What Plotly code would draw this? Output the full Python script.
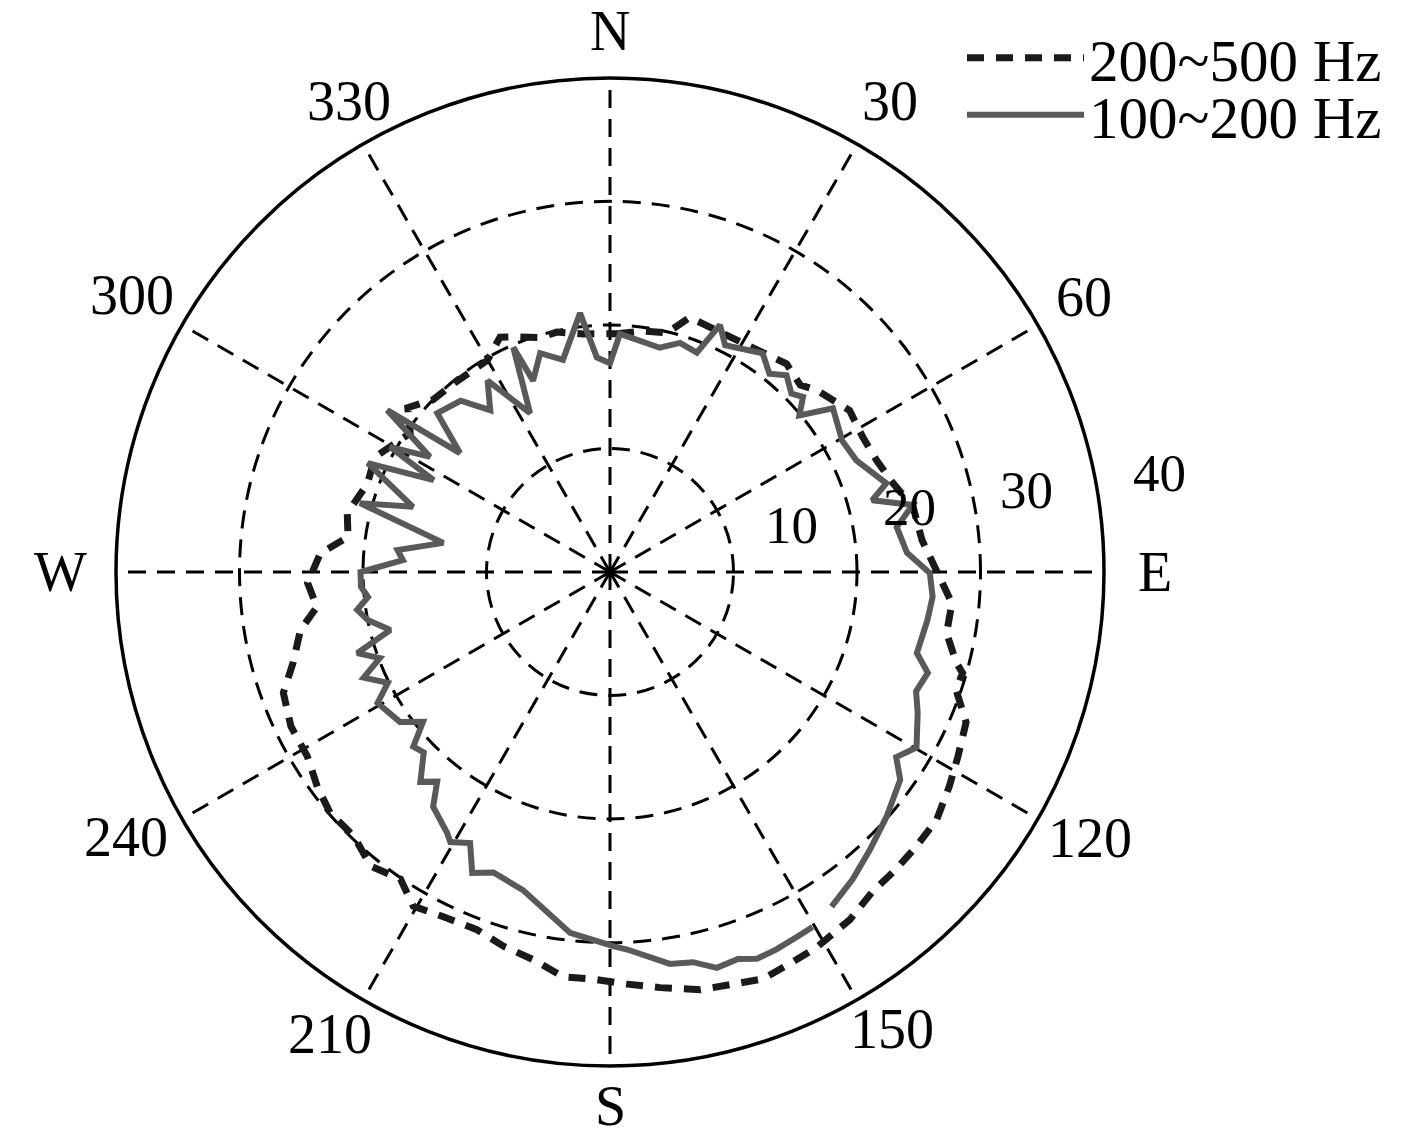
import math
import plotly.graph_objects as go

# 100~200 Hz band (solid grey), compass degrees / value
theta_low = [150.3, 152.9, 156.2, 159.2, 161.7, 164.9, 168.0, 171.3, 177.4, 179.5,
             186.3, 195.3, 201.2, 204.6, 207.3, 210.6, 212.0, 217.0, 219.5, 222.1,
             225.9, 228.4, 231.3, 234.5, 240.6, 243.5, 246.8, 249.5, 252.2, 255.2,
             258.8, 261.5, 264.1, 266.6, 270.0, 273.3, 275.9, 279.9, 285.4, 288.3,
             294.2, 297.5, 299.6, 302.6, 306.0, 308.4, 312.6, 318.9, 323.5, 327.4,
             333.3, 336.7, 338.1, 342.3, 347.5, 353.4, 356.5, 0.0, 2.4, 12.5,
             17.0, 21.6, 24.0, 26.9, 34.9, 38.8, 41.9, 45.5, 47.8, 50.4,
             53.7, 60.5, 65.6, 72.2, 74.7, 77.5, 81.1, 86.3, 90.2, 94.4,
             98.6, 104.8, 107.6, 111.3, 114.6, 119.8, 122.9, 125.6, 131.5, 136.9,
             141.7, 146.5]
r_low = [33.1, 33.2, 33.4, 33.5, 33.0, 33.2, 32.3, 32.1, 30.6, 30.3,
         29.4, 26.7, 26.1, 26.8, 24.7, 25.4, 24.9, 23.8, 22.0, 22.9,
         21.0, 21.3, 19.4, 20.9, 21.6, 20.1, 21.7, 19.9, 21.5, 18.4,
         20.0, 20.7, 19.7, 20.2, 20.2, 16.8, 17.3, 13.7, 21.0, 16.8,
         21.5, 16.1, 20.5, 17.3, 22.3, 15.5, 19.0, 18.4, 16.3, 18.4,
         14.4, 19.8, 16.7, 18.6, 17.6, 21.1, 17.4, 16.9, 19.3, 18.6,
         19.4, 19.1, 21.9, 20.6, 21.6, 20.6, 21.4, 20.6, 21.1, 19.9,
         22.4, 21.6, 21.9, 23.5, 22.0, 25.1, 23.5, 24.1, 25.9, 26.2,
         26.0, 25.7, 27.0, 26.6, 27.4, 28.6, 27.6, 28.9, 29.9, 30.8,
         31.7, 32.5]

# 200~500 Hz band (dashed black)
theta_high = [1.7, 7.8, 13.4, 17.4, 28.7, 40.3, 45.5, 48.7, 56.0, 61.9,
              67.2, 72.5, 77.9, 84.2, 89.6, 95.2, 100.3, 104.7, 106.0, 108.8,
              112.9, 118.0, 122.3, 127.2, 131.9, 136.1, 140.7, 145.4, 151.2, 155.4,
              159.4, 163.8, 167.8, 173.1, 177.6, 182.4, 186.6, 191.2, 195.9, 200.4,
              205.8, 210.5, 214.3, 219.1, 224.1, 229.3, 233.7, 238.6, 244.2, 249.7,
              254.0, 259.4, 263.2, 267.9, 273.7, 277.6, 282.6, 290.1, 296.0, 304.8,
              309.1, 314.2, 321.4, 329.9, 334.9, 337.6, 343.4, 347.5, 353.6, 361.7]
r_high = [19.3, 19.7, 19.9, 21.6, 21.4, 22.1, 21.6, 22.3, 23.4, 23.2,
          23.4, 24.0, 25.1, 25.4, 26.4, 27.8, 27.7, 29.0, 29.7, 29.6,
          31.3, 31.9, 32.5, 33.2, 33.3, 33.4, 33.5, 34.2, 34.7, 34.9,
          35.2, 34.8, 34.6, 33.9, 33.4, 33.0, 33.0, 32.0, 31.5, 30.9,
          31.0, 31.4, 30.1, 30.7, 29.8, 29.9, 29.4, 28.7, 28.7, 28.2,
          26.7, 25.5, 23.9, 24.5, 23.5, 21.4, 21.8, 20.9, 21.2, 19.7,
          21.1, 20.0, 19.8, 19.8, 21.0, 20.6, 19.8, 19.9, 19.4, 19.3]

angle_ticks = [0, 30, 60, 90, 120, 150, 180, 210, 240, 270, 300, 330]
angle_labels = ["N", "30", "60", "E", "120", "150", "S", "210", "240", "W", "300", "330"]
radial_ticks = [10, 20, 30, 40]
# label placement (in radial units / degrees) - compass labels sit just
# outside the ring, radial numbers a little outside their own circles
angle_label_r = [43.8, 44.4, 44.4, 44.1, 44.4, 43.5, 43.2, 43.7, 44.7, 44.5, 44.7, 43.6]
angle_label_theta = [0, 30.7, 59.9, 90, 119, 148.3, 180, 211.2, 241.3, 270, 300.1, 331]
radial_label_r = [15.2, 24.8, 34.4, 45.2]
radial_label_theta = [75.5, 77.8, 78.9, 79.8]
R_MAX = 40

FONT = "Liberation Serif"
# page body has an 8px margin, so the figure is 16px smaller than the window
W, H = 1401, 1118
DOM_X = [108 / W, 1096 / W]
DOM_Y = [1 - 1058 / H, 1 - 70 / H]

# polar geometry in paper units, used to place the text labels
cx = (DOM_X[0] + DOM_X[1]) / 2
cy = (DOM_Y[0] + DOM_Y[1]) / 2
rad_px = (DOM_X[1] - DOM_X[0]) * W / 2


def polar_to_paper(r, theta):
    d = r / R_MAX * rad_px
    t = math.radians(theta)
    return cx + d * math.sin(t) / W, cy + d * math.cos(t) / H


fig = go.Figure()

fig.add_trace(go.Scatterpolar(
    r=r_high, theta=theta_high, mode="lines", name="200~500 Hz",
    line=dict(color="#1a1a1a", width=7, dash="17px,12px"),
    legend="legend", showlegend=True,
))
fig.add_trace(go.Scatterpolar(
    r=r_low, theta=theta_low, mode="lines", name="100~200 Hz",
    line=dict(color="#595959", width=6),
    legend="legend2", showlegend=True,
))

annotations = []
for v, r, t in zip(radial_ticks, radial_label_r, radial_label_theta):
    x, y = polar_to_paper(r, t)
    annotations.append(dict(x=x, y=y, text=str(v), font=dict(size=53)))
for lab, r, t in zip(angle_labels, angle_label_r, angle_label_theta):
    x, y = polar_to_paper(r, t)
    annotations.append(dict(x=x, y=y, text=lab, font=dict(size=56)))
for a in annotations:
    a.update(xref="paper", yref="paper", xanchor="center", yanchor="middle",
             showarrow=False)
    a["font"].update(family=FONT, color="black")

legend_style = dict(
    xanchor="left", yanchor="top", bgcolor="rgba(0,0,0,0)",
    itemwidth=117, font=dict(family=FONT, size=59, color="black"),
)

fig.update_layout(
    width=W, height=H,
    paper_bgcolor="white",
    margin=dict(l=0, r=0, t=0, b=0),
    font=dict(family=FONT, size=53, color="black"),
    showlegend=True,
    polar=dict(
        domain=dict(x=DOM_X, y=DOM_Y),
        bgcolor="white",
        radialaxis=dict(
            range=[0, R_MAX], tickvals=radial_ticks[:-1], showticklabels=False,
            ticks="", showline=False, gridcolor="black", gridwidth=2.5,
            griddash="18px,11px",
        ),
        angularaxis=dict(
            direction="clockwise", rotation=90,
            tickvals=angle_ticks, showticklabels=False, ticks="",
            showline=True, linecolor="black", linewidth=3.5,
            gridcolor="black", gridwidth=2.5, griddash="18px,11px",
        ),
    ),
    legend=dict(x=954 / W, y=1 - 5 / H, **legend_style),
    legend2=dict(x=954 / W, y=1 - 62 / H, **legend_style),
    annotations=annotations,
)

fig.write_html("out.html")
